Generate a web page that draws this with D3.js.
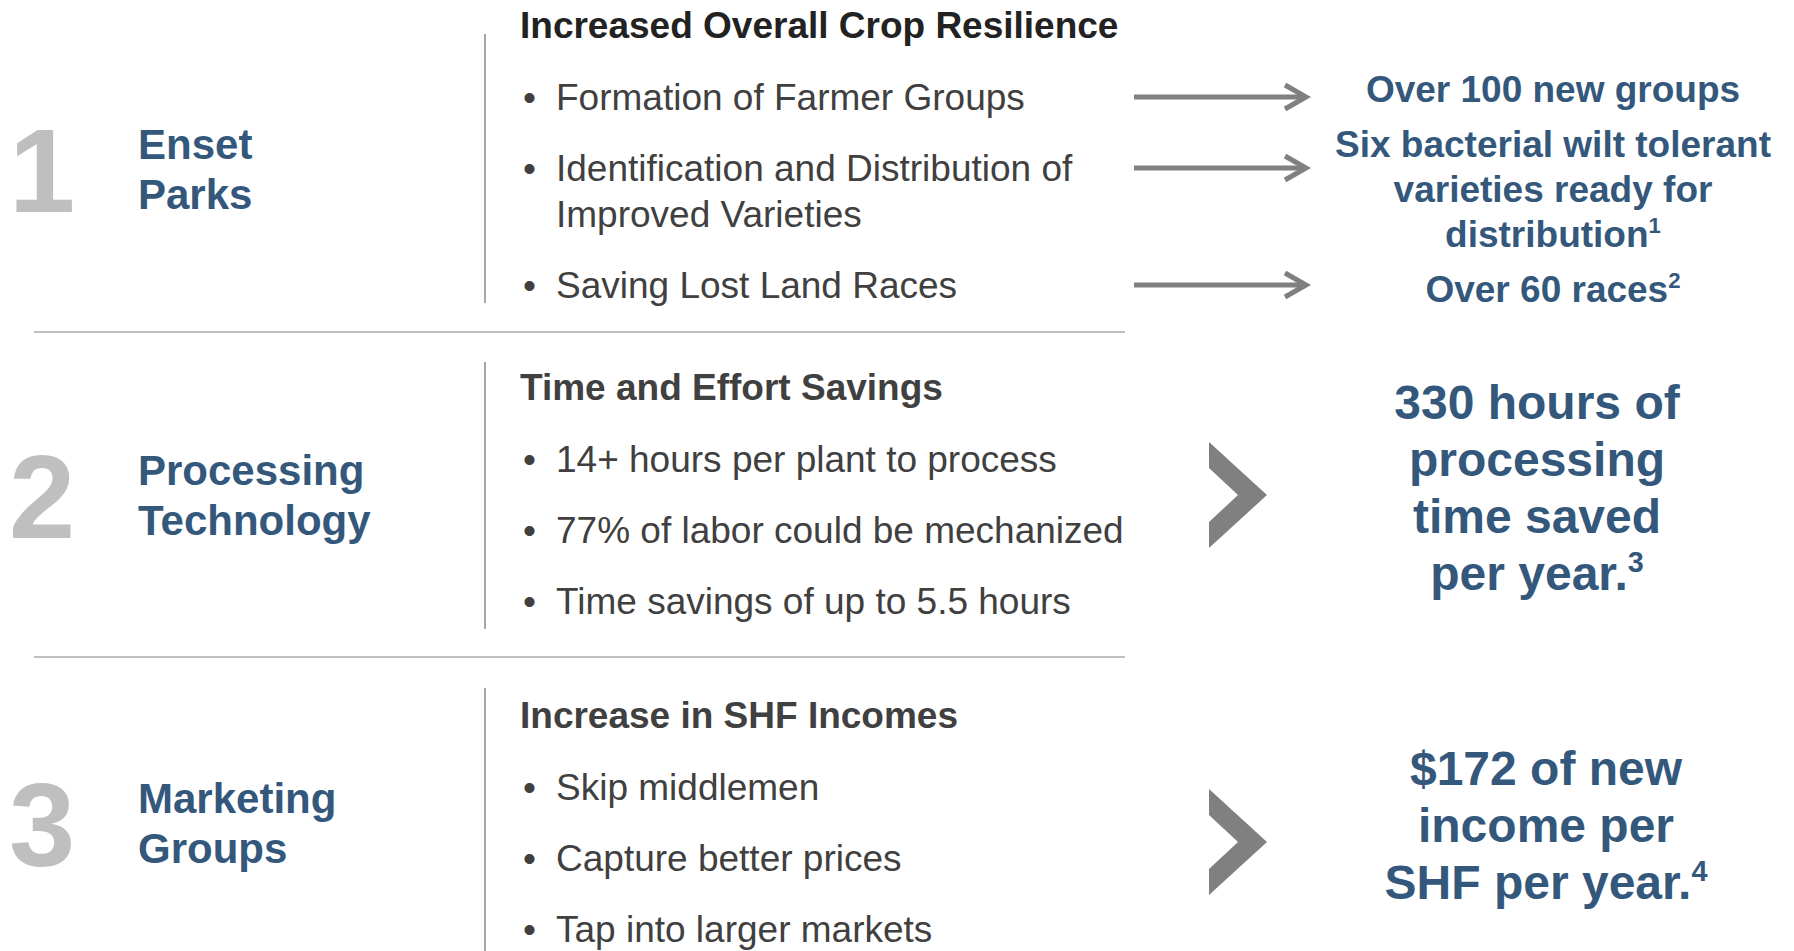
<!DOCTYPE html>
<html>
<head>
<meta charset="utf-8">
<script src="https://cdn.jsdelivr.net/npm/d3@7"></script>
<style>
body { margin: 0; background: #fff; }
svg  { display: block; }
</style>
</head>
<body>
<script>
// ---------------------------------------------------------------------------
// DATA
// ---------------------------------------------------------------------------
var numbers  = ["1", "2", "3"]
  , labels   = [["Enset", "Parks"], ["Processing", "Technology"], ["Marketing", "Groups"]]
  , headings = ["Increased Overall Crop Resilience", "Time and Effort Savings", "Increase in SHF Incomes"]
  , bullets  = [
      [["Formation of Farmer Groups"], ["Identification and Distribution of", "Improved Varieties"], ["Saving Lost Land Races"]],
      [["14+ hours per plant to process"], ["77% of labor could be mechanized"], ["Time savings of up to 5.5 hours"]],
      [["Skip middlemen"], ["Capture better prices"], ["Tap into larger markets"]]
    ]
  // row 1 : one result per bullet, [text, superscript]
  , cropResults = [
      [["Over 100 new groups", ""]],
      [["Six bacterial wilt tolerant", ""], ["varieties ready for", ""], ["distribution", "1"]],
      [["Over 60 races", "2"]]
    ]
  // rows 2 and 3 : one block result
  , blockResults = [
      [["330 hours of", ""], ["processing", ""], ["time saved", ""], ["per year.", "3"]],
      [["$172 of new", ""], ["income per", ""], ["SHF per year.", "4"]]
    ]

// ---------------------------------------------------------------------------
// LAYOUT
// ---------------------------------------------------------------------------
var W = 1794, H = 951
  , font  = "'Liberation Sans', Arial, Helvetica, sans-serif"
  , blue  = "#34587c"
  , grey  = "#404040"
  , headColors = ["#222222", "#404040", "#404040"]
  , headY   = [38, 400, 728]
  , digitY  = [212, 538, 866]
  , vlines  = [[34, 303], [362, 629], [688, 951]]
  , seps    = [332, 657]
  , cropY   = [102, 157, 302]
  , blockY  = [419, 785]
  , blockX  = [1537, 1546]
  , chevY   = [442, 789]

var svg = d3.select("body").append("svg")
            .attr("width", W)
            .attr("height", H)
            .style("font-family", font)

// separators
svg.selectAll("line.sep").data(seps).enter().append("line")
   .attr("class", "sep")
   .attr("x1", 34).attr("x2", 1125)
   .attr("y1", function (d) { return d }).attr("y2", function (d) { return d })
   .attr("stroke", "#bfbfbf").attr("stroke-width", 2)

svg.selectAll("line.vl").data(vlines).enter().append("line")
   .attr("class", "vl")
   .attr("x1", 485).attr("x2", 485)
   .attr("y1", function (d) { return d[0] }).attr("y2", function (d) { return d[1] })
   .attr("stroke", "#a6a6a6").attr("stroke-width", 2)

// big numbers
svg.selectAll("text.num").data(numbers).enter().append("text")
   .attr("class", "num")
   .attr("x", 9).attr("y", function (d, i) { return digitY[i] })
   .attr("fill", "#bfbfbf").attr("font-size", 119).attr("font-weight", "bold")
   .text(function (d) { return d })

// row labels
labels.forEach(function (lab, i) {
	svg.append("text")
	   .attr("x", 138).attr("y", digitY[i] - 53)
	   .attr("fill", blue).attr("font-size", 42).attr("font-weight", "bold")
	   .selectAll("tspan").data(lab).enter().append("tspan")
	   .attr("x", 138).attr("dy", function (d, j) { return j ? 50 : 0 })
	   .text(function (d) { return d })
})

// headings
svg.selectAll("text.head").data(headings).enter().append("text")
   .attr("class", "head")
   .attr("x", 520).attr("y", function (d, i) { return headY[i] })
   .attr("fill", function (d, i) { return headColors[i] })
   .attr("font-size", 37).attr("font-weight", "bold")
   .text(function (d) { return d })

// bullets
var arrowY = []
bullets.forEach(function (list, i) {
	var y = headY[i] + 72
	list.forEach(function (lines, k) {
		if (i == 0) arrowY.push(y - 13)
		svg.append("text")
		   .attr("x", 523).attr("y", y)
		   .attr("fill", grey).attr("font-size", 37)
		   .text("\u2022")
		lines.forEach(function (t, j) {
			svg.append("text")
			   .attr("x", 556).attr("y", y + j * 46)
			   .attr("fill", grey).attr("font-size", 37)
			   .text(t)
		})
		y += (lines.length - 1) * 46 + 71
	})
})

// row 1 arrows
var arrows = svg.selectAll("g.arrow").data(arrowY).enter().append("g")
                .attr("class", "arrow")
                .attr("transform", function (d) { return "translate(0," + d + ")" })
arrows.append("line")
      .attr("x1", 1134).attr("x2", 1305).attr("y1", 0).attr("y2", 0)
      .attr("stroke", "#808080").attr("stroke-width", 5)
arrows.append("path")
      .attr("d", "M1285,-12L1306,0L1285,12")
      .attr("fill", "none").attr("stroke", "#808080").attr("stroke-width", 5)

// result texts, with superscripts
function resultLines (sel, lines, x, y0, step, size) {
	lines.forEach(function (l, j) {
		var t = sel.append("text")
		           .attr("x", x).attr("y", y0 + j * step)
		           .attr("text-anchor", "middle")
		           .attr("fill", blue).attr("font-size", size).attr("font-weight", "bold")
		t.append("tspan").text(l[0])
		if (l[1]) t.append("tspan")
		           .attr("font-size", size * 0.6)
		           .attr("dy", -size * 0.38)
		           .text(l[1])
	})
}

cropResults.forEach(function (lines, k) {
	resultLines(svg, lines, 1553, cropY[k], 45, 37)
})

blockResults.forEach(function (lines, k) {
	resultLines(svg, lines, blockX[k], blockY[k], 57, 48)
})

// chevrons
svg.selectAll("path.chev").data(chevY).enter().append("path")
   .attr("class", "chev")
   .attr("d", function (y) {
	   var x = 1209, w = 58, h = 106, a = 29
	   return "M" + x + "," + y +
	          "L" + (x + w) + "," + (y + h / 2) +
	          "L" + x + "," + (y + h) +
	          "L" + x + "," + (y + h - 26) +
	          "L" + (x + a) + "," + (y + h / 2) +
	          "L" + x + "," + (y + 26) + "Z"
   })
   .attr("fill", "#808080")
</script>
</body>
</html>
